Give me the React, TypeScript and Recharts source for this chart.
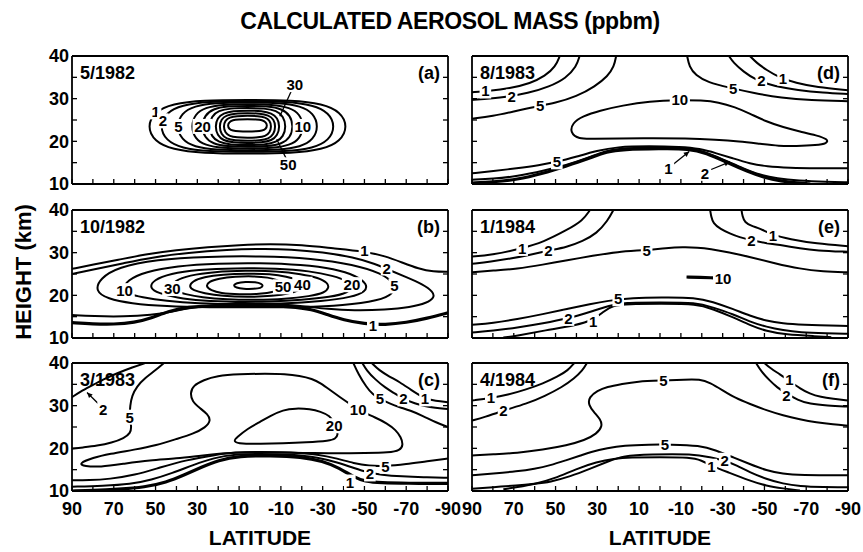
import React from "react";
import { ComposedChart, Line, Scatter, XAxis, YAxis } from "recharts";

type T = [number, number];
type L = [number, number, string];

const FONT = "'Liberation Sans', Arial, Helvetica, sans-serif";

const latTicks = [90, 80, 70, 60, 50, 40, 30, 20, 10, 0, -10, -20, -30, -40, -50, -60, -70, -80, -90];
const latLabels = [90, 70, 50, 30, 10, -10, -30, -50, -70, -90];
const hTicks = [10, 15, 20, 25, 30, 35, 40];
const hLabels = [10, 20, 30, 40];

// ---- (a) 5/1982 : closed contours [lat, km]
const a1: T[] = [[54, 23.5], [50.6, 26.9], [42, 28.8], [27.6, 29.65], [6, 29.7], [-15.6, 29.65], [-30, 28.8], [-38.6, 26.9], [-42, 23.5], [-38.6, 20], [-30, 18.1], [-15.6, 17.2], [6, 17.1], [27.6, 17.2], [42, 18.1], [50.6, 20]];
const a2: T[] = [[48, 23.5], [45.1, 26.7], [37.5, 28.5], [24.9, 29.35], [6, 29.4], [-12.9, 29.35], [-25.5, 28.5], [-33.1, 26.7], [-36, 23.5], [-33.1, 20.2], [-25.5, 18.4], [-12.9, 17.6], [6, 17.5], [24.9, 17.6], [37.5, 18.4], [45.1, 20.2]];
const a5: T[] = [[40, 23.5], [37.6, 26.6], [31.5, 28.3], [21.3, 29.05], [6, 29.1], [-9.3, 29.05], [-19.5, 28.3], [-25.6, 26.6], [-28, 23.5], [-25.6, 20.4], [-19.5, 18.7], [-9.3, 18.0], [6, 17.9], [21.3, 18.0], [31.5, 18.7], [37.6, 20.4]];
const a10: T[] = [[33, 23.5], [31.1, 26.4], [26.3, 27.9], [18.2, 28.65], [6, 28.7], [-6.2, 28.65], [-14.3, 27.9], [-19.1, 26.4], [-21, 23.5], [-19.1, 20.6], [-14.3, 19.1], [-6.2, 18.4], [6, 18.3], [18.2, 18.4], [26.3, 19.1], [31.1, 20.6]];
const a20: T[] = [[28, 23.5], [26.5, 26.1], [22.5, 27.6], [15.9, 28.25], [6, 28.3], [-3.9, 28.25], [-10.5, 27.6], [-14.5, 26.1], [-16, 23.5], [-14.5, 20.9], [-10.5, 19.4], [-3.9, 18.8], [6, 18.7], [15.9, 18.8], [22.5, 19.4], [26.5, 20.9]];
const a30: T[] = [[24.5, 23.5], [23.2, 25.9], [19.9, 27.2], [14.3, 27.75], [6, 27.8], [-2.3, 27.75], [-7.9, 27.2], [-11.2, 25.9], [-12.5, 23.5], [-11.2, 21.1], [-7.9, 19.8], [-2.3, 19.2], [6, 19.1], [14.3, 19.2], [19.9, 19.8], [23.2, 21.1]];
const a40: T[] = [[21.5, 23.5], [20.4, 25.5], [17.6, 26.6], [13, 27.15], [6, 27.2], [-1, 27.15], [-5.6, 26.6], [-8.4, 25.5], [-9.5, 23.5], [-8.4, 21.4], [-5.6, 20.2], [-1, 19.7], [6, 19.6], [13, 19.7], [17.6, 20.2], [20.4, 21.4]];
const a50: T[] = [[19.5, 23.5], [18.6, 25.2], [16.1, 26.1], [12.1, 26.55], [6, 26.6], [-0.1, 26.55], [-4.1, 26.1], [-6.6, 25.2], [-7.5, 23.5], [-6.6, 21.6], [-4.1, 20.6], [-0.1, 20.2], [6, 20.1], [12.1, 20.2], [16.1, 20.6], [18.6, 21.6]];
const a70: T[] = [[17.5, 23.5], [16.7, 24.9], [14.6, 25.6], [11.2, 25.95], [6, 26], [0.8, 25.95], [-2.6, 25.6], [-4.7, 24.9], [-5.5, 23.5], [-4.7, 22], [-2.6, 21.2], [0.8, 20.9], [6, 20.8], [11.2, 20.9], [14.6, 21.2], [16.7, 22]];
const a100: T[] = [[15.5, 23.7], [14.8, 24.5], [13.1, 25], [10.3, 25.15], [6, 25.2], [1.7, 25.15], [-1.1, 25], [-2.8, 24.5], [-3.5, 23.7], [-2.8, 22.9], [-1.1, 22.5], [1.7, 22.35], [6, 22.3], [10.3, 22.35], [13.1, 22.5], [14.8, 22.9]];
const aLead: T[][] = [[[-15, 31.8], [-9.5, 25.9]], [[-12.5, 16], [-8, 20.5]]];
const aLbl: L[] = [[50, 26.9, "1"], [46.5, 24.8, "2"], [39, 23.5, "5"], [27.5, 23.5, "20"], [-20.5, 23.5, "10"], [-16.7, 33.3, "30"], [-13.5, 14.5, "50"]];

// ---- (b) 10/1982
const b1top: T[] = [[90, 26.2], [80, 27.2], [68, 28.3], [55, 29.6], [40, 30.6], [25, 31.3], [10, 31.8], [-5, 32.1], [-20, 31.8], [-35, 31], [-50, 30.3], [-60, 29.2], [-68, 27.7], [-76, 26.2], [-83, 25.5], [-90, 25.5]];
const b1bot: T[] = [[90, 13.6], [80, 13.3], [70, 13.2], [60, 13.6], [52, 14.7], [44, 16.2], [35, 17.3], [20, 17.6], [0, 17.6], [-15, 17.4], [-25, 16.7], [-32, 15.5], [-40, 14.2], [-50, 13.3], [-60, 13.1], [-70, 13.6], [-80, 14.6], [-90, 15.9]];
const b2: T[] = [[90, 25.0], [80, 26.0], [65, 27.6], [50, 29.0], [35, 30.0], [15, 30.7], [0, 30.9], [-15, 30.8], [-30, 30.1], [-45, 28.9], [-55, 27.4], [-62, 25.9], [-70, 24.3], [-78, 22.6], [-83, 20.8], [-83.5, 19.5], [-80, 18.2], [-72, 17.2], [-60, 16.6], [-45, 16.4], [-32, 16.8], [-22, 17.4], [-10, 17.9], [5, 18.1], [20, 17.9], [32, 17.2], [42, 16.2], [52, 15.4], [65, 15.0], [80, 15.1], [90, 15.4]];
const b5: T[] = [[79, 21], [76.5, 24], [68, 26.6], [50, 28.4], [25, 29.1], [0, 29.2], [-25, 28.7], [-45, 27.2], [-58, 25.2], [-64.5, 22.8], [-64, 20.3], [-57, 18.8], [-40, 17.6], [-20, 17.2], [0, 17.2], [25, 17.2], [45, 17.4], [62, 18.1], [73, 19.2]];
const b10: T[] = [[66, 21.2], [63.5, 23.6], [55, 25.5], [40, 26.9], [20, 27.5], [0, 27.6], [-20, 27.2], [-36, 26.2], [-46, 24.6], [-51.5, 22.6], [-50.5, 20.8], [-44, 19.6], [-30, 18.6], [-10, 18], [10, 17.9], [30, 18.1], [45, 18.7], [57, 19.6], [63, 20.3]];
const b20: T[] = [[53, 21.7], [51, 23.6], [43, 25.1], [30, 26], [12, 26.4], [-8, 26.3], [-24, 25.7], [-35, 24.6], [-42.5, 23.3], [-44.5, 22], [-42, 20.6], [-34, 19.6], [-20, 18.9], [-5, 18.5], [12, 18.4], [28, 18.7], [40, 19.4], [48.5, 20.5]];
const b30: T[] = [[43, 21.8], [41, 23.4], [34, 24.7], [22, 25.5], [7, 25.8], [-8, 25.7], [-20, 25], [-28, 24.1], [-32.5, 22.9], [-33, 21.8], [-31, 20.6], [-24, 19.8], [-12, 19.1], [2, 18.9], [16, 19], [28, 19.5], [36, 20.3], [41, 21]];
const b40: T[] = [[34, 22], [32.5, 23.3], [27, 24.3], [18, 24.9], [6, 25.1], [-5, 25], [-13, 24.4], [-18, 23.6], [-20.5, 22.6], [-19.5, 21.4], [-15, 20.5], [-6, 19.8], [6, 19.6], [18, 19.8], [27, 20.5], [32, 21.2]];
const b50: T[] = [[26, 22.1], [24.5, 23.2], [20, 23.9], [12, 24.4], [3, 24.5], [-4, 24.2], [-8.5, 23.6], [-11, 22.7], [-10.5, 21.6], [-7, 20.8], [0, 20.3], [10, 20.2], [19, 20.5], [23.5, 21.2]];
const b100: T[] = [[12.8, 22.3], [11.5, 22.9], [7, 23.2], [2, 23.1], [-0.8, 22.7], [-1.5, 22.2], [-0.5, 21.7], [3, 21.5], [8, 21.5], [11.5, 21.8]];
const bLbl: L[] = [[-50, 30.5, "1"], [-60.6, 26.4, "2"], [-64.3, 22.2, "5"], [64.8, 21.1, "10"], [-44, 22.5, "20"], [42, 21.6, "30"], [-20.3, 22.6, "40"], [-11, 22, "50"], [-54, 12.9, "1"]];

// ---- (c) 3/1983
const c2ul: T[] = [[90, 32], [86, 33.3], [81, 34.6], [75, 36.2], [68, 37.7], [61, 39], [55, 40]];
const c5ul: T[] = [[46, 40], [50, 38.3], [55, 36.5], [59, 34.5], [61.3, 32.3], [62.2, 30], [62.4, 27.3], [61.5, 25], [62, 23.6], [65, 22.4], [71, 21.3], [78, 20.6], [85, 20.2], [90, 19.9]];
const c10: T[] = [[87, 16.4], [80, 17.8], [72, 18.7], [60, 19.7], [49.6, 20.7], [40, 22.2], [32, 23.4], [26, 24.9], [23.5, 26.5], [25, 28], [29, 29.5], [32.5, 31], [33.4, 33], [32, 34.7], [27, 36], [20.8, 37], [10, 37.4], [-3, 37.5], [-12, 37.4], [-19, 37], [-25, 36.3], [-29, 35.3], [-34, 33.5], [-38.3, 32], [-43, 30.4], [-48, 28.7], [-55, 27.3], [-61, 25.8], [-65, 24.3], [-67.5, 22.6], [-68.6, 20.8], [-67, 19.5], [-62, 19], [-50, 18.9], [-38, 18.8], [-25, 18.9], [-10, 19], [0, 19.1], [10, 19.1], [18, 18.8], [28, 18.3], [40, 17.6], [52.8, 17.2], [65, 16.4], [76.7, 15.6], [84, 15.8]];
const c20: T[] = [[13, 21.6], [11, 22.6], [6, 24.6], [0, 26.2], [-5, 27.6], [-11, 29], [-17, 29.4], [-24, 29.2], [-29, 28.6], [-33.5, 27.6], [-35.5, 26], [-36.5, 24.5], [-37.5, 23.2], [-36, 22.2], [-33.5, 21.8], [-22, 21.4], [-11, 21.2], [0, 21.1], [9, 21]];
const c5ur: T[] = [[-44.7, 40], [-47, 37.5], [-51, 34.3], [-54, 32.6], [-57.4, 31.6], [-62, 30.5], [-67, 29.6], [-71.8, 28.9], [-78, 27.6], [-84, 26.1], [-90, 25]];
const c2ur: T[] = [[-49, 40], [-51, 38.3], [-55, 36.2], [-60, 34.2], [-64, 33], [-68.6, 31.6], [-74, 30.5], [-80, 29.7], [-90, 29.2]];
const c1ur: T[] = [[-53.5, 40], [-57, 38.3], [-62, 36.8], [-67, 35.5], [-72, 33.8], [-79, 31.6], [-84, 31.1], [-90, 30.8]];
const c5low: T[] = [[-90, 17.6], [-80, 17], [-70, 16.3], [-60, 15.8], [-52, 15.9], [-45, 16.5], [-37, 17.6], [-28, 18.6], [-15, 19.1], [0, 19.2], [12, 19.1], [22, 18.4], [35, 17.3], [48, 15.5], [60, 13.7], [72, 12.8], [82, 12.5], [90, 12.5]];
const c2low: T[] = [[-90, 13.1], [-78, 13.2], [-68, 13.4], [-58, 13.8], [-51, 14.4], [-45, 15.4], [-37, 16.7], [-28, 17.9], [-15, 18.6], [0, 18.7], [12, 18.6], [22, 17.8], [32, 16.1], [42, 14.2], [52, 12.6], [62, 11.6], [75, 11.2], [90, 11]];
const c1low: T[] = [[-90, 11.8], [-70, 11.8], [-58, 11.9], [-50, 12.3], [-45, 13.2], [-38, 15.4], [-30, 17], [-20, 18], [-5, 18.3], [10, 18.2], [20, 17.2], [28, 15.6], [36, 13.8], [45, 12], [55, 10.9], [68, 10.4], [80, 10.1], [90, 10]];
const cArrow: T[][] = [[[77.5, 30.5], [82.8, 33.1]]];
const cLbl: L[] = [[75.1, 29.2, "2"], [62.4, 27.3, "5"], [-47, 29.2, "10"], [-35.5, 25.3, "20"], [-57.4, 31.6, "5"], [-68.6, 31.6, "2"], [-79, 31.6, "1"], [-60, 15.8, "5"], [-52.6, 14, "2"], [-43, 12.1, "1"]];

// ---- (d) 8/1983
const d1: T[] = [[48, 40], [50, 37.5], [55, 35.3], [62, 33.6], [72, 32.4], [82, 31.8], [90, 31.5]];
const d2: T[] = [[38.5, 40], [40, 37.5], [45, 34.8], [53, 32.8], [63, 31.3], [75, 30.3], [85, 29.9], [90, 29.7]];
const d5ul: T[] = [[21, 40], [22, 37.5], [25, 35.3], [31, 32.9], [40, 30.5], [50, 29], [60, 28.1], [70, 27], [80, 25.9], [90, 25.3]];
const d5ur: T[] = [[-13, 40], [-14, 37.5], [-17, 35.5], [-23, 33.8], [-33, 32.6], [-45, 31.3], [-58, 30.2], [-72, 29.6], [-90, 29.4]];
const d2ur: T[] = [[-33, 40], [-35, 38.5], [-40, 36.3], [-46, 34.3], [-55, 32.9], [-66, 32], [-78, 31.4], [-90, 31.1]];
const d1ur: T[] = [[-43, 40], [-46, 38.5], [-51, 36.7], [-57, 35], [-65, 33.7], [-75, 32.7], [-90, 32]];
const d10: T[] = [[43, 22], [42, 24.3], [37, 25.9], [29, 27.2], [18, 28.4], [5, 29.4], [-9, 29.7], [-20, 29.6], [-28, 29.2], [-36, 28], [-43, 26.5], [-51, 24.6], [-59, 23.3], [-67, 22.3], [-75, 21.4], [-80.5, 20.5], [-80, 19.5], [-75, 19.1], [-65, 18.9], [-57, 18.9], [-48, 19.4], [-38, 20], [-27, 20.4], [-12, 20.7], [3, 20.7], [20, 20.7], [32, 20.6], [39, 20.5]];
const d5low: T[] = [[90, 12.5], [80, 13], [68.5, 13.7], [58, 14.4], [49, 15.2], [40, 16.4], [30, 17.8], [21, 18.7], [5, 18.9], [-10, 18.7], [-19, 18.3], [-27, 17.2], [-35, 16], [-43, 14.8], [-51, 14.1], [-62, 13.8], [-75, 13.7], [-90, 13.7]];
const d2low: T[] = [[90, 11], [80, 11.2], [68.5, 11.8], [55, 13.2], [45, 14.4], [35, 16], [26, 17.8], [20, 18.3], [5, 18.6], [-12, 18.6], [-20, 17.8], [-30, 15.8], [-40, 13.6], [-48, 12.1], [-56, 11.3], [-66, 10.8], [-80, 10.5], [-90, 10.4]];
const d1low: T[] = [[90, 10.2], [80, 10.5], [68.5, 11], [56, 12.5], [45, 14.2], [35, 15.8], [25, 17.7], [18, 18.1], [0, 18.3], [-14, 18.3], [-22, 17.3], [-32, 15.1], [-42, 12.9], [-50, 11.5], [-58, 10.7], [-66, 10.2], [-72, 10]];
const dArrow: T[][] = [[[-6.5, 14.7], [-14, 17.6]], [[-24.5, 13.4], [-33.4, 15.2]]];
const dLbl: L[] = [[83.6, 31.8, "1"], [71, 30.4, "2"], [57.4, 28.3, "5"], [-35, 32.5, "5"], [-48.5, 34.2, "2"], [-58.9, 34.8, "1"], [-9.5, 29.7, "10"], [49.4, 15.2, "5"], [-4, 13.7, "1"], [-21.5, 12.5, "2"]];

// ---- (e) 1/1984
const e1: T[] = [[33.5, 40], [37, 37.5], [44.6, 35.3], [55.8, 32.5], [66, 31], [81, 29.4], [90, 29.1]];
const e2: T[] = [[22.3, 40], [25, 37.5], [30.3, 34.5], [37, 32.7], [44.6, 31.3], [53.4, 30.5], [62, 29.5], [71.7, 28.6], [81, 27.9], [90, 27.4]];
const e5top: T[] = [[90, 25.4], [80, 25.8], [68.5, 26.2], [56, 27.2], [44.6, 28.2], [32, 29.3], [20.7, 30.2], [6.4, 30.6], [-3, 31.1], [-11, 31.3], [-18, 31.2], [-24, 30.9], [-33, 30.1], [-43, 29], [-55, 27.5], [-67, 26.2], [-78, 25.6], [-90, 25.4]];
const e2r: T[] = [[-24, 40], [-24.5, 38.5], [-25.4, 36.9], [-29, 35.5], [-33.4, 34.5], [-38, 33.6], [-43.8, 32.9], [-51, 32.2], [-58.9, 31.7], [-67, 31], [-74.8, 30.5], [-90, 30.2]];
const e1r: T[] = [[-39, 40], [-39.5, 38.5], [-40.5, 37.1], [-44, 36.2], [-47.8, 35.7], [-54, 34.1], [-62, 33.2], [-74.8, 32.1], [-90, 31.5]];
const e10: T[] = [[-12.7, 24.3], [-19, 24.2], [-25.4, 24.1]];
const e5low: T[] = [[90, 13.1], [80, 13.5], [68.5, 14.4], [56, 15.6], [44.6, 16.8], [33, 18], [25.5, 18.7], [12.8, 19.4], [0, 19.5], [-17.5, 19.5], [-25, 18.5], [-35, 16.8], [-43, 15.2], [-51, 14], [-59, 13.4], [-66.8, 13.1], [-90, 12.8]];
const e2low: T[] = [[90, 11.3], [80, 11.7], [68.5, 12.4], [56, 13.4], [43.8, 14.6], [33, 16.2], [24, 17.6], [17.5, 18.3], [0, 18.3], [-17.5, 18.3], [-25, 17.2], [-35, 15.6], [-43, 13.8], [-51, 12.6], [-59, 11.8], [-66.8, 11.3], [-80, 11.1], [-90, 11]];
const e1low: T[] = [[75, 10.1], [68.5, 10.5], [55, 11.8], [40, 13], [32, 14.2], [27, 16.2], [23, 17.6], [15, 18], [0, 18], [-18, 18], [-25, 16.8], [-35, 14.9], [-43, 13], [-51, 11.6], [-60, 10.8], [-75, 10.4], [-82, 10.2]];
const eLbl: L[] = [[66, 31, "1"], [53.4, 30.5, "2"], [6.4, 30.6, "5"], [-43.8, 32.9, "2"], [-54, 34.1, "1"], [-30.2, 24, "10"], [20, 19.2, "5"], [43.8, 14.6, "2"], [32, 13.8, "1"]];

// ---- (f) 4/1984
const f1: T[] = [[41, 40], [44, 38.3], [49, 36.8], [56, 35.2], [64, 33.8], [73, 32.5], [81, 31.8], [90, 31.2]];
const f2: T[] = [[35, 40], [37, 38.3], [41, 36.4], [47, 34.3], [55, 32.3], [64, 30.4], [74.9, 28.9], [84, 27.3], [90, 26.5]];
const f5top: T[] = [[90, 18.3], [80, 18.6], [68.5, 18.9], [56, 19.7], [44.6, 20.7], [36, 21.9], [30.3, 23.4], [27.5, 25.2], [28.5, 26.8], [31.5, 28.4], [34.3, 30.2], [34, 32], [30, 33.5], [25.5, 34.4], [18, 35.1], [11.2, 35.7], [-1.6, 35.9], [-12, 36.1], [-19, 36.2], [-24, 35.4], [-30, 33.6], [-36, 31.8], [-43, 30.4], [-51, 28.9], [-58.9, 27.7], [-67, 26.8], [-74.8, 26.1], [-83, 25.6], [-90, 25.3]];
const f1r: T[] = [[-50, 40], [-53, 38.7], [-57.3, 37.4], [-62, 35.8], [-67, 34], [-71.6, 32.8], [-77, 32], [-82.8, 31.6], [-90, 31.2]];
const f2r: T[] = [[-46, 40], [-48.5, 38], [-52.5, 35.9], [-56, 34.3], [-60, 33], [-66, 31.3], [-71.6, 30.4], [-80, 30], [-90, 29.8]];
const f5low: T[] = [[90, 13.7], [80, 14.1], [68.5, 14.6], [60, 15.2], [52.6, 16], [45, 17.2], [38, 18.3], [33.5, 19.1], [25, 20.1], [17.5, 20.7], [5, 20.9], [-5, 20.9], [-19, 20.7], [-27, 19.5], [-35, 17.9], [-43, 16.3], [-50.9, 14.8], [-58.9, 14], [-66.8, 13.7], [-90, 13.7]];
const f2low: T[] = [[90, 10.5], [80, 10.9], [68.5, 11.3], [60, 11.7], [52.6, 12.1], [43, 13.4], [33.5, 15.2], [25, 16.9], [17.5, 18.3], [5, 18.6], [-16, 18.7], [-24, 17.9], [-31, 17.2], [-37, 15.9], [-43, 14.4], [-50.9, 12.8], [-58.9, 11.7], [-66.8, 11.1], [-78, 10.9], [-90, 10.9]];
const f1low: T[] = [[75, 10.4], [68.5, 10.9], [60, 11.6], [50.6, 12.9], [40, 15.2], [30.3, 16.8], [22, 17.6], [14.4, 17.9], [0, 17.9], [-14.3, 17.9], [-20, 17.2], [-24.6, 15.9], [-32, 14.5], [-43, 12.4], [-50.9, 11.2], [-58.9, 10.6], [-67, 10.1]];
const fLbl: L[] = [[81, 31.8, "1"], [74.9, 28.9, "2"], [-1.6, 35.9, "5"], [-62, 36.2, "1"], [-60.5, 32.4, "2"], [-2.4, 20.9, "5"], [-31, 17.2, "2"], [-24.6, 15.8, "1"]];

type PanelDef = {
  date: string;
  tag: string;
  loops: T[][];
  open: T[][];
  thick: T[][];
  leaders: T[][];
  arrows: T[][];
  labels: L[];
};

const panels: PanelDef[] = [
  { date: "5/1982", tag: "(a)", loops: [a1, a2, a5, a10, a20, a30, a40, a50, a70, a100], open: [], thick: [], leaders: aLead, arrows: [], labels: aLbl },
  { date: "10/1982", tag: "(b)", loops: [b5, b10, b20, b30, b40, b50, b100], open: [b1top, b2], thick: [b1bot], leaders: [], arrows: [], labels: bLbl },
  { date: "3/1983", tag: "(c)", loops: [c10, c20], open: [c2ul, c5ul, c5ur, c2ur, c1ur, c5low, c2low], thick: [c1low], leaders: [], arrows: cArrow, labels: cLbl },
  { date: "8/1983", tag: "(d)", loops: [d10], open: [d1, d2, d5ul, d5ur, d2ur, d1ur, d5low, d2low], thick: [d1low], leaders: [], arrows: dArrow, labels: dLbl },
  { date: "1/1984", tag: "(e)", loops: [], open: [e1, e2, e5top, e2r, e1r, e5low, e2low, e1low], thick: [e10], leaders: [], arrows: [], labels: eLbl },
  { date: "4/1984", tag: "(f)", loops: [], open: [f1, f2, f5top, f1r, f2r, f5low, f2low, f1low], thick: [], leaders: [], arrows: [], labels: fLbl },
];

const toPts = (arr: T[]) => arr.map(([lat, h]) => ({ lat, h }));
const toLbl = (arr: L[]) => arr.map(([lat, h, text]) => ({ lat, h, text }));

const PW = 376;
const PH = 128;
const COLS = [72, 472];
const ROWS = [56, 210, 363];

const renderLabel = (props: any) => {
  const { cx, cy, payload } = props;
  const w = payload.text.length * 8.6 + 3;
  return (
    <g>
      <rect x={cx - w / 2} y={cy - 7.5} width={w} height={15} fill="#fff" />
      <text x={cx} y={cy + 5.5} textAnchor="middle" fontSize={15} fontWeight={700} fontFamily={FONT} fill="#000">
        {payload.text}
      </text>
    </g>
  );
};

// arrow head on the last point of a leader line
const arrowHead = (props: any) => {
  const { cx, cy, index, points, key } = props;
  if (!points || index !== points.length - 1) return <g key={key} />;
  const prev = points[index - 1];
  const ang = Math.atan2(cy - prev.y, cx - prev.x);
  const s = 6;
  const p1 = [cx - s * Math.cos(ang - 0.45), cy - s * Math.sin(ang - 0.45)];
  const p2 = [cx - s * Math.cos(ang + 0.45), cy - s * Math.sin(ang + 0.45)];
  return <polygon key={key} points={`${cx},${cy} ${p1[0]},${p1[1]} ${p2[0]},${p2[1]}`} fill="#000" />;
};

const noTick = () => <g />;

function Panel({ p, left, top, showY, showX }: { p: PanelDef; left: number; top: number; showY: boolean; showX: boolean }) {
  // axes need a non-zero size to be drawn, so the hidden ones get 1px
  const yW = showY ? 45 : 1;
  const m = { top: 10, right: 18, bottom: 30, left: showY ? 0 : 20 };
  const frame = { stroke: "#000", strokeWidth: 1.8 };
  const tl = { stroke: "#000", strokeWidth: 1.3 };
  const tickFont = { fontSize: 18, fontWeight: 700, fill: "#000", fontFamily: FONT };
  return (
    <div style={{ position: "absolute", left: left - yW - m.left, top: top - m.top - 1 }}>
      <ComposedChart width={m.left + yW + PW + 1 + m.right} height={m.top + 1 + PH + 1 + m.bottom} margin={m}>
        <XAxis
          type="number"
          dataKey="lat"
          domain={[-90, 90]}
          reversed
          allowDataOverflow
          ticks={latTicks}
          interval={0}
          height={1}
          tickSize={-5}
          tickMargin={16}
          axisLine={frame}
          tickLine={tl}
          stroke="#000"
          tick={showX ? tickFont : noTick}
          tickFormatter={(v: number) => (latLabels.includes(v) ? String(v) : "")}
        />
        <XAxis xAxisId="t" orientation="top" type="number" domain={[-90, 90]} reversed allowDataOverflow ticks={latTicks} interval={0} height={1} tickSize={-5} axisLine={frame} tickLine={tl} stroke="#000" tick={noTick} />
        <YAxis
          type="number"
          dataKey="h"
          domain={[10, 40]}
          allowDataOverflow
          ticks={hTicks}
          interval={0}
          width={yW}
          tickSize={-5}
          tickMargin={8}
          axisLine={frame}
          tickLine={tl}
          stroke="#000"
          tick={showY ? tickFont : noTick}
          tickFormatter={(v: number) => (hLabels.includes(v) ? String(v) : "")}
        />
        <YAxis yAxisId="r" orientation="right" type="number" domain={[10, 40]} allowDataOverflow ticks={hTicks} interval={0} width={1} tickSize={-5} axisLine={frame} tickLine={tl} stroke="#000" tick={noTick} />
        {p.loops.map((c, i) => (
          <Line key={"loop" + i} data={toPts(c)} dataKey="h" type="basisClosed" stroke="#000" strokeWidth={2} dot={false} activeDot={false} isAnimationActive={false} />
        ))}
        {p.open.map((c, i) => (
          <Line key={"open" + i} data={toPts(c)} dataKey="h" type="basis" stroke="#000" strokeWidth={2} dot={false} activeDot={false} isAnimationActive={false} />
        ))}
        {p.thick.map((c, i) => (
          <Line key={"thick" + i} data={toPts(c)} dataKey="h" type="basis" stroke="#000" strokeWidth={3.2} dot={false} activeDot={false} isAnimationActive={false} />
        ))}
        {p.leaders.map((c, i) => (
          <Line key={"lead" + i} data={toPts(c)} dataKey="h" type="linear" stroke="#000" strokeWidth={1.3} dot={false} activeDot={false} isAnimationActive={false} />
        ))}
        {p.arrows.map((c, i) => (
          <Line key={"arr" + i} data={toPts(c)} dataKey="h" type="linear" stroke="#000" strokeWidth={1.3} dot={arrowHead} activeDot={false} isAnimationActive={false} />
        ))}
        <Scatter data={toLbl(p.labels)} shape={renderLabel} isAnimationActive={false} />
      </ComposedChart>
      <div style={{ position: "absolute", left: m.left + yW + 8, top: m.top + 8, fontFamily: FONT, fontWeight: 700, fontSize: 18, lineHeight: "21px", color: "#000" }}>{p.date}</div>
      <div style={{ position: "absolute", left: m.left + yW + PW - 32, top: m.top + 8, width: 24, textAlign: "right", fontFamily: FONT, fontWeight: 700, fontSize: 18, lineHeight: "21px", color: "#000" }}>{p.tag}</div>
    </div>
  );
}

export default function App() {
  return (
    <div style={{ position: "absolute", left: 0, top: 0, width: 863, height: 552, background: "#fff", overflow: "hidden" }}>
      {panels.map((p, i) => {
        const col = i < 3 ? 0 : 1;
        const row = i % 3;
        return <Panel key={p.tag} p={p} left={COLS[col]} top={ROWS[row]} showY={col === 0} showX={row === 2} />;
      })}
      <svg width={863} height={552} style={{ position: "absolute", left: 0, top: 0, pointerEvents: "none" }}>
        <text x={450} y={29} textAnchor="middle" fontFamily={FONT} fontWeight={700} fontSize={23} letterSpacing={-0.4}>
          CALCULATED AEROSOL MASS (ppbm)
        </text>
        <text x={260} y={545} textAnchor="middle" fontFamily={FONT} fontWeight={700} fontSize={21}>
          LATITUDE
        </text>
        <text x={660} y={545} textAnchor="middle" fontFamily={FONT} fontWeight={700} fontSize={21}>
          LATITUDE
        </text>
        <text x={31} y={272} textAnchor="middle" fontFamily={FONT} fontWeight={700} fontSize={22} transform="rotate(-90 31 272)">
          HEIGHT (km)
        </text>
      </svg>
    </div>
  );
}
